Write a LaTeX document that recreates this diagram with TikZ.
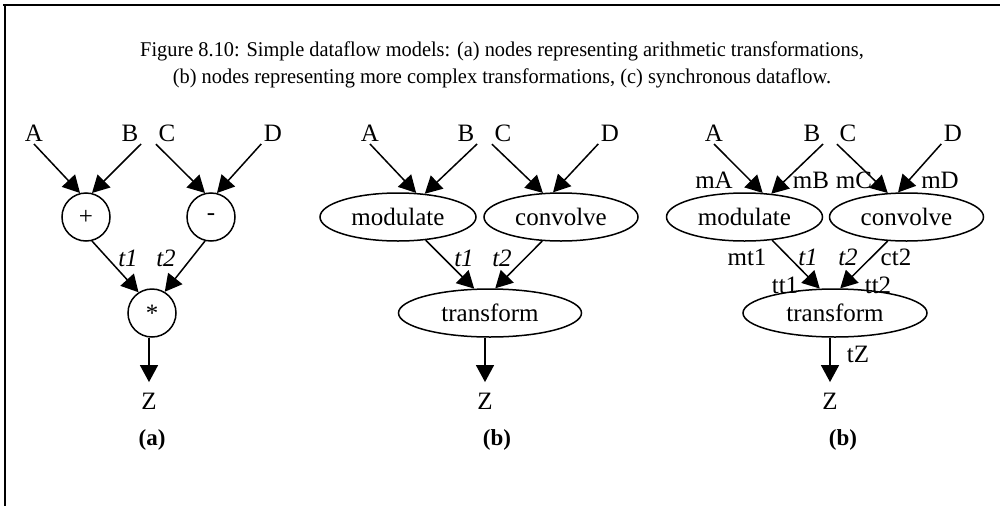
\documentclass[tikz,border=0pt]{standalone}
\usepackage{fontspec}
\setmainfont{Liberation Serif}
\newfontfamily\capfont{Liberation Serif}[FakeStretch=0.97]
\usetikzlibrary{arrows.meta,shapes.geometric}

\begin{document}
\begin{tikzpicture}[x=1pt,y=-1pt,line width=1.5pt,
  flow/.style={-{Triangle[length=17pt,width=18pt]}},
  term/.style={inner sep=2pt,font=\fontsize{25}{30}\selectfont},
  opcirc/.style={draw,circle,minimum size=48pt,inner sep=0pt,font=\fontsize{25}{30}\selectfont},
  actor/.style={draw,ellipse,minimum height=48pt,inner sep=0pt,font=\fontsize{25}{30}\selectfont},
  elabel/.style={inner sep=0pt,font=\fontsize{25}{30}\selectfont},
  tlabel/.style={inner sep=0pt,font=\itshape\fontsize{25}{30}\selectfont},
  sublabel/.style={inner sep=0pt,font=\bfseries\fontsize{23}{27}\selectfont},
  toZ/.style={flow,shorten >=8pt}]
\useasboundingbox (0,0) rectangle (1000,506);

% frame
\draw[line width=2pt] (3,5) -- (1000,5);
\draw[line width=2pt] (5,4) -- (5,506);

% caption
\node[align=center,inner sep=0pt,font=\capfont\fontsize{21}{27}\selectfont] (caption) at (502,65)
  {Figure 8.10: Simple dataflow models: (a) nodes representing arithmetic transformations,\\
   (b) nodes representing more complex transformations, (c) synchronous dataflow.};

% ---------- (a) arithmetic ----------
\node[term] (aA) at (34,133) {A};
\node[term] (aB) at (130,133) {B};
\node[term] (aC) at (167,133) {C};
\node[term] (aD) at (273,133) {D};
\node[opcirc] (aplus) at (86,217) {+};
\node[opcirc] (aminus) at (211,217) {-};
\node[opcirc] (astar) at (152,313) {*};
\node[term] (aZ) at (149,401) {Z};
\draw[flow] (aA.south) -- (aplus.104);
\draw[flow] (aB.south east) -- (aplus.76);
\draw[flow] (aC.south west) -- (aminus.104);
\draw[flow] (aD.south west) -- (aminus.76);
\draw[flow] (aplus.284) -- (astar.123);
\draw[flow] (aminus.256) -- (astar.59);
\draw[toZ] (astar.south -| aZ.north) -- (aZ.north);
\node[tlabel] (at1) at (128,258) {t1};
\node[tlabel] (at2) at (166,258) {t2};
\node[sublabel] (alab) at (152,440) {(a)};

% ---------- (b) complex transformations ----------
\node[term] (bA) at (370,133) {A};
\node[term] (bB) at (466,133) {B};
\node[term] (bC) at (503,133) {C};
\node[term] (bD) at (610,133) {D};
\node[actor,minimum width=156pt] (bmod) at (398,217) {modulate};
\node[actor,minimum width=154pt] (bconv) at (561,217) {convolve};
\node[actor,minimum width=183pt] (btrans) at (490,313) {transform};
\node[term] (bZ) at (485,401) {Z};
\draw[flow] (bA.south) -- (bmod.53);
\draw[flow] (bB.south east) -- (bmod.41);
\draw[flow] (bC.south west) -- (bconv.127);
\draw[flow] (bD.south west) -- (bconv.108);
\draw[flow] (bmod.-40) -- (btrans.123);
\draw[flow] (bconv.-128) -- (btrans.78);
\draw[toZ] (btrans.south -| bZ.north) -- (bZ.north);
\node[tlabel] (bt1) at (464,258) {t1};
\node[tlabel] (bt2) at (502,258) {t2};
\node[sublabel] (blab) at (497,440) {(b)};

% ---------- (c) synchronous dataflow ----------
\node[term] (cA) at (714,133) {A};
\node[term] (cB) at (812,133) {B};
\node[term] (cC) at (848,133) {C};
\node[term] (cD) at (953,133) {D};
\node[actor,minimum width=156pt] (cmod) at (744.5,217) {modulate};
\node[actor,minimum width=154pt] (cconv) at (906.5,217) {convolve};
\node[actor,minimum width=184pt] (ctrans) at (835,313) {transform};
\node[term] (cZ) at (830,401) {Z};
\draw[flow] (cA.south) -- (cmod.53);
\draw[flow] (cB.south east) -- (cmod.41);
\draw[flow] (cC.south west) -- (cconv.128);
\draw[flow] (cD.south west) -- (cconv.109);
\draw[flow] (cmod.-40) -- (ctrans.122);
\draw[flow] (cconv.-128) -- (ctrans.78);
\draw[toZ] (ctrans.south -| cZ.north) -- (cZ.north);
\node[elabel] (cmA) at (714,180) {mA};
\node[elabel] (cmB) at (811,180) {mB};
\node[elabel] (cmC) at (854,180) {mC};
\node[elabel] (cmD) at (940,180) {mD};
\node[elabel] (cmt1) at (747,257) {mt1};
\node[tlabel] (ct1) at (808,257) {t1};
\node[tlabel] (ct2) at (848,257) {t2};
\node[elabel] (cct2) at (896,257) {ct2};
\node[elabel] (ctt1) at (785,285) {tt1};
\node[elabel] (ctt2) at (878,285) {tt2};
\node[elabel] (ctZ) at (858,354) {tZ};
\node[sublabel] (clab) at (843,440) {(b)};
\end{tikzpicture}
\end{document}
